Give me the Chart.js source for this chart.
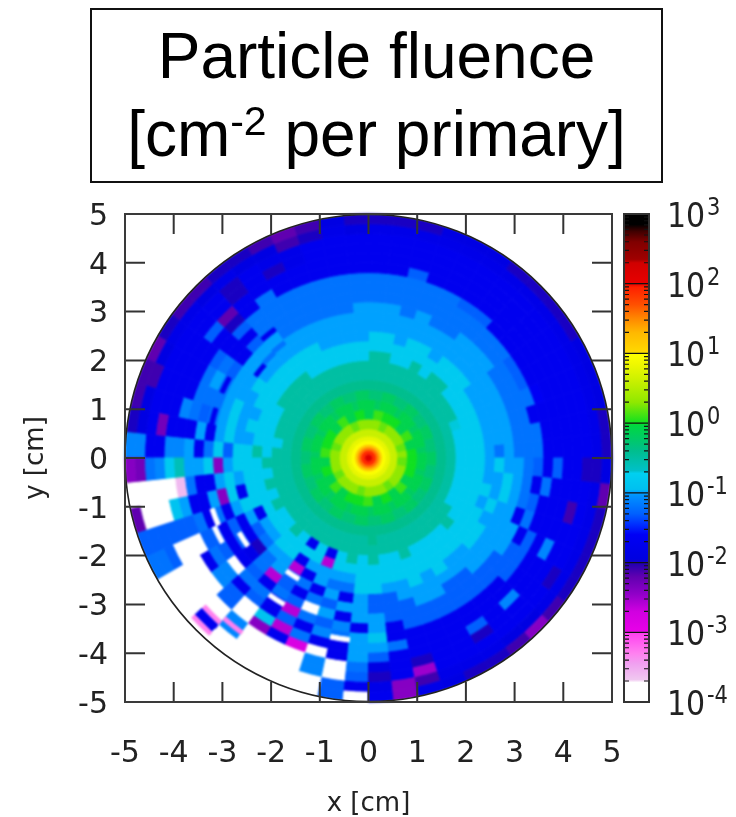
<!DOCTYPE html>
<html>
<head>
<meta charset="utf-8">
<title>Particle fluence</title>
<script src="https://cdn.jsdelivr.net/npm/chart.js@4"></script>
<style>
  html, body { margin: 0; padding: 0; background: #fff; }
  #box { position: absolute; left: 90px; top: 8px; width: 569px; height: 171px; border: 2.5px solid #111;
         font-family: "Liberation Sans", sans-serif; font-size: 64px; line-height: 78px; text-align: center; color: #000; }
  #box div { position: relative; top: 7px; }
  #box sup { font-size: 41px; line-height: 0; vertical-align: 21px; }
  canvas { position: absolute; left: 0; top: 0; }
</style>
</head>
<body>
<canvas id="grafico" width="736" height="817"></canvas>
<div id="box"><div>Particle fluence</div><div>[cm<sup>-2</sup> per primary]</div></div>
<script>
const tickLabels = [-5, -4, -3, -2, -1, 0, 1, 2, 3, 4, 5];
const barExponents = [3, 2, 1, 0, -1, -2, -3, -4];

// colour bar: log10(fluence) and its colour
const barLogs = [-4, -3.72, -3.68, -3.45, -3.3, -3.01, -2.98, -2.7, -2.45, -2.2, -2.03, -1.95, -1.6, -1.45, -1.3, -1.05, -0.98, -0.95, -0.72, -0.68, -0.4, -0.25, -0.03, 0, 0.3, 0.6, 0.85, 1, 1.02, 1.3, 1.5, 1.7, 1.95, 2, 2.3, 2.35, 2.6, 2.75, 2.85, 3];
const barColors = ['#ffffff', '#ffffff', '#f0c8f0', '#f0a0f0', '#ff80f0', '#ff40f0', '#e800e8', '#d000e0', '#9000c8', '#6000b0', '#2800b0', '#0000e0', '#0000f5', '#0030ff', '#0060ff', '#0090ff', '#00a8ff', '#00c0f0', '#00d0f0', '#00c0c8', '#00be8e', '#00c86c', '#00d840', '#10e020', '#90e800', '#c8f000', '#f0f800', '#ffff00', '#ffd800', '#ffb800', '#ff8800', '#ff5000', '#ff2000', '#e80000', '#d00000', '#a00000', '#800000', '#400000', '#000000', '#000000'];

// central disc, r in cm and log10(fluence)
const coreEdges = [0, 0.08, 0.16, 0.22, 0.28, 0.36, 0.45, 0.6];
const coreLogs = [2.15, 1.9, 1.55, 1.2, 0.98, 0.8, 0.6];

// polar bins outside the disc: rings of 0.2 cm from r = 0.6, sectors of 6 degrees
// values are 10*log10(fluence), -40 is empty
const ringStart = 0.6;
const ringStep = 0.2;
const sectorStep = 6;

const quadrant1 = [
  [3,0,-1,-2,-4,-5,-8,-8,-8,-10,-12,-10,-12,-12,-12,-17,-17,-17,-17,-17,-18,-20],
  [3,0,-2,-3,-4,-5,-8,-8,-8,-10,-10,-10,-12,-12,-12,-17,-17,-17,-17,-17,-18,-20],
  [2,-1,-1,-3,-4,-5,-8,-8,-8,-10,-10,-10,-12,-12,-17,-17,-17,-17,-17,-17,-18,-19],
  [2,-1,-1,-2,-4,-5,-7,-8,-8,-10,-10,-10,-12,-12,-12,-16,-17,-17,-17,-17,-18,-19],
  [3,1,-1,-2,-4,-5,-5,-8,-8,-10,-10,-10,-12,-12,-13,-17,-17,-17,-17,-17,-18,-19],
  [3,1,-2,-3,-4,-5,-5,-8,-8,-10,-10,-10,-12,-12,-13,-17,-17,-17,-17,-17,-18,-20],
  [3,-1,-1,-3,-4,-5,-5,-8,-8,-8,-10,-10,-10,-12,-12,-17,-17,-17,-17,-17,-18,-20],
  [3,-1,-1,-2,-4,-5,-5,-5,-8,-8,-10,-10,-10,-12,-12,-17,-17,-17,-17,-17,-18,-20],
  [3,0,-1,-2,-4,-5,-5,-5,-8,-8,-10,-10,-10,-12,-12,-13,-17,-17,-17,-17,-18,-20],
  [3,0,-2,-3,-4,-5,-5,-8,-8,-10,-10,-10,-12,-12,-12,-13,-17,-17,-17,-17,-18,-19],
  [2,0,-1,-3,-4,-5,-5,-5,-8,-8,-10,-10,-12,-12,-12,-12,-17,-17,-17,-17,-18,-19],
  [2,0,-1,-2,-4,-5,-5,-8,-8,-8,-10,-10,-10,-12,-12,-12,-17,-17,-17,-17,-18,-19],
  [3,1,-1,-2,-4,-5,-5,-8,-8,-10,-10,-10,-12,-12,-12,-12,-13,-17,-17,-17,-18,-20],
  [3,1,-2,-3,-4,-5,-5,-5,-8,-8,-10,-10,-10,-12,-12,-12,-17,-17,-17,-17,-18,-20],
  [3,-1,-1,-3,-4,-5,-5,-5,-8,-8,-10,-10,-10,-12,-12,-12,-17,-17,-17,-17,-18,-20]
];
const quadrant2 = [
  [3,-1,-1,-2,-4,-5,-5,-8,-8,-10,-10,-10,-10,-12,-12,-12,-17,-17,-17,-17,-19,-20],
  [3,0,-1,-2,-4,-5,-5,-8,-8,-10,-10,-10,-12,-12,-12,-12,-17,-17,-17,-17,-18,-19],
  [3,0,-2,-3,-4,-5,-5,-8,-8,-10,-10,-10,-12,-12,-12,-12,-17,-17,-17,-17,-20,-21],
  [2,-1,-1,-3,-4,-5,-5,-8,-8,-10,-10,-10,-12,-12,-12,-12,-17,-17,-18,-18,-21,-22],
  [2,-1,-1,-2,-4,-5,-5,-8,-8,-8,-10,-10,-12,-12,-12,-12,-17,-17,-20,-18,-19,-21],
  [3,1,-1,-2,-4,-5,-5,-8,-8,-8,-10,-10,-12,-12,-12,-12,-12,-17,-17,-17,-19,-20],
  [3,1,-2,-3,-4,-5,-5,-5,-8,-8,-10,-10,-10,-12,-12,-12,-17,-17,-20,-20,-18,-20],
  [3,-1,-1,-3,-4,-5,-5,-5,-8,-8,-10,-10,-10,-13,-17,-13,-20,-22,-17,-17,-19,-21],
  [3,-1,-1,-2,-4,-5,-5,-5,-8,-8,-10,-10,-10,-17,-17,-17,-17,-13,-17,-17,-18,-21],
  [3,0,-1,-2,-4,-5,-5,-5,-8,-8,-8,-10,-10,-13,-12,-13,-17,-17,-17,-17,-18,-20],
  [3,0,-2,-3,-4,-5,-5,-8,-8,-8,-10,-10,-10,-12,-10,-12,-17,-17,-17,-17,-19,-22],
  [2,0,-1,-3,-4,-5,-5,-8,-8,-10,-10,-8,-10,-12,-12,-12,-17,-17,-17,-17,-21,-21],
  [2,0,-1,-2,-4,-5,-5,-8,-8,-8,-10,-8,-10,-12,-13,-12,-11,-17,-17,-17,-19,-21],
  [3,1,-1,-2,-4,-5,-8,-8,-8,-10,-10,-8,-10,-17,-10,-17,-17,-17,-23,-17,-19,-20],
  [3,1,-2,-3,-4,-5,-5,-8,-5,-8,-8,-13,-8,-12,-17,-10,-11,-11,-17,-17,-11,-11]
];
const quadrant3 = [
  [3,-1,-1,-3,-4,-5,-5,-5,-8,-8,-8,-10,-24,-8,-10,-10,-6,-8,-11,-12,-23,-24],
  [3,-1,-1,-2,-4,-5,-5,-8,-8,-8,-10,-8,-10,-17,-17,-12,-36,-40,-40,-40,-40,-40],
  [3,0,-1,-2,-4,-5,-5,-5,-8,-8,-17,-8,-24,-10,-17,-17,-10,-9,-40,-40,-40,-22],
  [3,0,-2,-3,-4,-5,-5,-8,-8,-8,-8,-10,-17,-12,-17,-12,-13,-13,-13,-13,-13,-13],
  [2,-1,-1,-3,-4,-5,-5,-5,-8,-17,-10,-17,-13,-17,-13,-13,-40,-40,-40,-13,-12,-12],
  [2,-1,-1,-2,-4,-5,-5,-8,-8,-10,-13,-17,-13,-17,-13,-12,-17,-40,-40,-40,-40,-40],
  [3,1,-1,-2,-4,-5,-5,-8,-8,-10,-12,-20,-18,-17,-40,-11,-11,-40,-40,-40,-40,-40],
  [3,1,-2,-3,-4,-5,-5,-5,-8,-8,-10,-12,-12,-13,-12,-17,-13,-13,-40,-40,-17,-40],
  [3,-1,-1,-3,-4,-5,-5,-8,-8,-8,-10,-10,-26,-17,-12,-13,-40,-40,-11,-11,-40,-40],
  [3,-1,-1,-2,-4,-5,-5,-17,-8,-17,-26,-13,-13,-12,-17,-17,-9,-24,-40,-40,-40,-40],
  [3,0,-1,-2,-4,-5,-5,-8,-8,-10,-17,-12,-17,-13,-26,-13,-26,-17,-40,-40,-40,-40],
  [3,0,-2,-3,-4,-5,-5,-17,-26,-10,-10,-17,-12,-40,-12,-17,-12,-28,-40,-40,-40,-40],
  [2,0,-1,-3,-4,-5,-5,-8,-8,-10,-12,-10,-13,-10,-13,-11,-17,-40,-11,-11,-40,-40],
  [2,0,-1,-2,-4,-5,-5,-5,-8,-10,-12,-17,-10,-17,-11,-12,-17,-17,-40,-40,-13,-13],
  [3,1,-1,-2,-4,-5,-5,-8,-8,-8,-8,-10,-10,-10,-17,-10,-10,-10,-12,-13,-17,-40]
];
const quadrant4 = [
  [3,1,-2,-3,-4,-4,-5,-5,-8,-8,-8,-13,-13,-10,-10,-9,-10,-13,-19,-20,-18,-17],
  [3,-1,-1,-3,-4,-5,-5,-8,-8,-8,-10,-13,-13,-13,-17,-17,-12,-17,-17,-17,-24,-24],
  [3,-1,-1,-2,-4,-5,-5,-8,-8,-8,-10,-10,-13,-13,-13,-17,-17,-17,-20,-25,-21,-18],
  [3,0,-1,-2,-4,-5,-5,-5,-8,-8,-8,-10,-10,-13,-13,-17,-17,-17,-17,-17,-18,-19],
  [3,0,-2,-3,-4,-5,-5,-8,-8,-8,-10,-10,-10,-13,-13,-17,-17,-17,-17,-17,-18,-20],
  [2,-1,-1,-3,-4,-5,-5,-8,-8,-8,-8,-10,-13,-13,-13,-17,-17,-13,-20,-17,-18,-20],
  [2,-1,-1,-2,-4,-5,-5,-8,-8,-8,-10,-10,-13,-13,-13,-17,-17,-17,-17,-17,-19,-21],
  [3,1,-1,-2,-4,-5,-5,-8,-8,-8,-10,-10,-10,-13,-13,-17,-17,-11,-17,-17,-19,-24],
  [3,1,-2,-3,-4,-5,-5,-5,-8,-8,-8,-10,-10,-13,-13,-13,-17,-17,-17,-17,-18,-21],
  [3,-1,-1,-3,-4,-5,-5,-8,-8,-8,-8,-10,-10,-10,-13,-13,-17,-17,-17,-20,-18,-20],
  [3,-1,-1,-2,-4,-5,-8,-8,-8,-8,-10,-10,-10,-10,-17,-13,-17,-11,-17,-17,-18,-20],
  [3,0,-1,-2,-4,-5,-8,-8,-8,-10,-8,-10,-10,-17,-12,-17,-17,-17,-17,-17,-18,-20],
  [3,0,-2,-3,-4,-5,-8,-8,-8,-8,-10,-8,-10,-12,-13,-17,-17,-17,-21,-17,-18,-20],
  [2,0,-1,-3,-4,-5,-8,-8,-8,-10,-10,-8,-10,-12,-17,-12,-17,-17,-17,-17,-18,-22],
  [2,0,-1,-2,-4,-5,-8,-8,-8,-10,-8,-10,-10,-12,-13,-17,-13,-17,-17,-20,-20,-19]
];
const sectors = [...quadrant1, ...quadrant2, ...quadrant3, ...quadrant4];

// narrow bins seen as thin streaks: sector, inner radius in cm, 10*log10(fluence)
const thinSectors = [33, 34, 35, 39, 39, 43, 38, 37, 37, 37, 23, 21, 22, 21, 25, 27];
const thinRadii = [3.33, 3.42, 3.02, 2.82, 3.42, 3.7, 4.38, 4.5, 4.8, 4.62, 2.82, 3.22, 2.85, 2.88, 3.25, 3.25];
const thinCodes = [-40, -40, -40, -40, -40, -40, -33, -33, -33, -17, -17, -17, -12, -12, -17, -17];
const thinWidth = 0.09;

function hexToRgb(h) {
  return [parseInt(h.slice(1, 3), 16), parseInt(h.slice(3, 5), 16), parseInt(h.slice(5, 7), 16)];
}

function colorOf(log) {
  for (let i = 1; i < barLogs.length; i++) {
    if (log <= barLogs[i]) {
      const f = (log - barLogs[i - 1]) / (barLogs[i] - barLogs[i - 1]);
      const a = hexToRgb(barColors[i - 1]);
      const b = hexToRgb(barColors[i]);
      return `rgb(${a.map((v, k) => Math.round(v + (b[k] - v) * f)).join(',')})`;
    }
  }
  return barColors[barColors.length - 1];
}

// one record per bin
const cells = [];
function addCell(r0, r1, a0, a1, log) {
  const mid = (a0 + a1) / 2 * Math.PI / 180;
  cells.push({ x: (r0 + r1) / 2 * Math.cos(mid), y: (r0 + r1) / 2 * Math.sin(mid), r0: r0, r1: r1, a0: a0, a1: a1, log: log });
}
coreLogs.forEach((log, i) => addCell(coreEdges[i], coreEdges[i + 1], 0, 360, log));
sectors.forEach((row, s) => {
  row.forEach((code, j) => {
    const r0 = ringStart + j * ringStep;
    addCell(r0, r0 + ringStep, s * sectorStep, (s + 1) * sectorStep, code / 10);
  });
});
thinSectors.forEach((s, i) => {
  addCell(thinRadii[i], thinRadii[i] + thinWidth, s * sectorStep, (s + 1) * sectorStep, thinCodes[i] / 10);
});

const polarMap = {
  id: 'polarMap',
  beforeDatasetsDraw(chart) {
    const sx = chart.scales.x;
    const sy = chart.scales.y;
    const off = document.createElement('canvas');
    off.width = chart.width;
    off.height = chart.height;
    const g = off.getContext('2d');
    chart.data.datasets[0].data.forEach(c => {
      const steps = Math.max(2, Math.ceil((c.a1 - c.a0) / 6) * 2);
      g.beginPath();
      for (let k = 0; k <= steps; k++) {
        const a = (c.a0 + (c.a1 - c.a0) * k / steps) * Math.PI / 180;
        g.lineTo(sx.getPixelForValue(c.r1 * Math.cos(a)), sy.getPixelForValue(c.r1 * Math.sin(a)));
      }
      for (let k = steps; k >= 0; k--) {
        const a = (c.a0 + (c.a1 - c.a0) * k / steps) * Math.PI / 180;
        g.lineTo(sx.getPixelForValue(c.r0 * Math.cos(a)), sy.getPixelForValue(c.r0 * Math.sin(a)));
      }
      g.closePath();
      g.fillStyle = colorOf(c.log);
      g.strokeStyle = g.fillStyle;
      g.lineWidth = 1;
      g.fill();
      g.stroke();
    });
    const ctx = chart.ctx;
    ctx.save();
    ctx.filter = 'blur(1.2px)';
    ctx.drawImage(off, 0, 0);
    ctx.restore();
  },
  afterDatasetsDraw(chart) {
    const ctx = chart.ctx;
    const area = chart.chartArea;
    const sx = chart.scales.x;
    const sy = chart.scales.y;
    const sc = chart.scales.yc;
    ctx.save();

    // outside of the detector stays white
    ctx.fillStyle = '#fff';
    ctx.beginPath();
    ctx.rect(area.left, area.top, area.right - area.left, area.bottom - area.top);
    ctx.arc(sx.getPixelForValue(0), sy.getPixelForValue(0), sx.getPixelForValue(5) - sx.getPixelForValue(0), 0, Math.PI * 2, true);
    ctx.fill();

    // detector outline
    ctx.strokeStyle = '#222';
    ctx.lineWidth = 1.6;
    ctx.beginPath();
    ctx.arc(sx.getPixelForValue(0), sy.getPixelForValue(0), sx.getPixelForValue(5) - sx.getPixelForValue(0), 0, Math.PI * 2);
    ctx.stroke();

    // inward ticks on all four sides
    ctx.strokeStyle = '#333';
    ctx.lineWidth = 2;
    ctx.beginPath();
    tickLabels.slice(1, -1).forEach(v => {
      const px = sx.getPixelForValue(v);
      const py = sy.getPixelForValue(v);
      ctx.moveTo(px, area.top); ctx.lineTo(px, area.top + 20);
      ctx.moveTo(px, area.bottom); ctx.lineTo(px, area.bottom - 20);
      ctx.moveTo(area.left, py); ctx.lineTo(area.left + 20, py);
      ctx.moveTo(area.right, py); ctx.lineTo(area.right - 20, py);
    });
    ctx.stroke();
    ctx.strokeStyle = '#3a3a3a';
    ctx.strokeRect(area.left, area.top, area.right - area.left, area.bottom - area.top);

    // colour bar
    const barLeft = 624;
    const barRight = 649;
    const top = sc.getPixelForValue(1000);
    const bottom = sc.getPixelForValue(0.0001);
    const grad = ctx.createLinearGradient(0, bottom, 0, top);
    barLogs.forEach((log, i) => grad.addColorStop((log + 4) / 7, barColors[i]));
    ctx.fillStyle = grad;
    ctx.fillRect(barLeft, top, barRight - barLeft, bottom - top);

    ctx.strokeStyle = '#111';
    ctx.lineWidth = 1.2;
    ctx.beginPath();
    barExponents.forEach(e => {
      const py = sc.getPixelForValue(Math.pow(10, e));
      ctx.moveTo(barLeft, py); ctx.lineTo(barRight, py);
      if (e > -4) {
        [2, 3, 4, 5, 6, 7, 8, 9].forEach(m => {
          const my = sc.getPixelForValue(m * Math.pow(10, e - 1));
          ctx.moveTo(barLeft, my); ctx.lineTo(barLeft + 5, my);
          ctx.moveTo(barRight, my); ctx.lineTo(barRight - 5, my);
        });
      }
    });
    ctx.stroke();
    ctx.strokeStyle = '#333';
    ctx.lineWidth = 2;
    ctx.strokeRect(barLeft, top, barRight - barLeft, bottom - top);

    // colour bar labels with raised exponent
    ctx.fillStyle = '#222';
    ctx.textBaseline = 'alphabetic';
    ctx.textAlign = 'left';
    barExponents.forEach(e => {
      const py = sc.getPixelForValue(Math.pow(10, e));
      ctx.save();
      ctx.translate(667, py + 13);
      ctx.scale(1, 1.14);
      ctx.font = '30px "DejaVu Sans"';
      ctx.fillText('10', 0, 0);
      ctx.restore();
      ctx.save();
      ctx.translate(707, py + 1);
      ctx.scale(1, 1.14);
      ctx.font = '21px "DejaVu Sans"';
      ctx.fillText(String(e), 0, 0);
      ctx.restore();
    });
    ctx.restore();
  }
};

new Chart(document.getElementById('grafico').getContext('2d'), {
  type: 'scatter',
  data: { datasets: [{ label: 'fluence', data: cells, pointRadius: 0, showLine: false }] },
  options: {
    responsive: false,
    animation: false,
    devicePixelRatio: 1,
    layout: { padding: { top: 214, right: 124, left: 0, bottom: 0 } },
    plugins: { legend: { display: false }, tooltip: { enabled: false } },
    scales: {
      x: {
        type: 'linear', min: -5, max: 5,
        afterFit: s => { s.height = 115; },
        border: { display: false },
        grid: { display: false },
        afterBuildTicks: s => { s.ticks = tickLabels.map(v => ({ value: v })); },
        ticks: { autoSkip: false, maxRotation: 0, padding: 26, color: '#222', font: { family: 'DejaVu Sans', size: 30 } },
        title: { display: true, text: 'x [cm]', color: '#222', padding: { top: 12, bottom: -3 }, font: { family: 'DejaVu Sans', size: 26 } }
      },
      y: {
        type: 'linear', min: -5, max: 5,
        afterFit: s => { s.width = 125; },
        border: { display: false },
        grid: { display: false },
        afterBuildTicks: s => { s.ticks = tickLabels.map(v => ({ value: v })); },
        ticks: { autoSkip: false, padding: 9, labelOffset: 3, color: '#222', font: { family: 'DejaVu Sans', size: 30 } },
        title: { display: true, text: 'y [cm]', color: '#222', padding: { top: 21, bottom: 0 }, font: { family: 'DejaVu Sans', size: 26 } }
      },
      yc: { type: 'logarithmic', position: 'right', display: false, min: 0.0001, max: 1000 }
    }
  },
  plugins: [polarMap]
});
</script>
</body>
</html>
